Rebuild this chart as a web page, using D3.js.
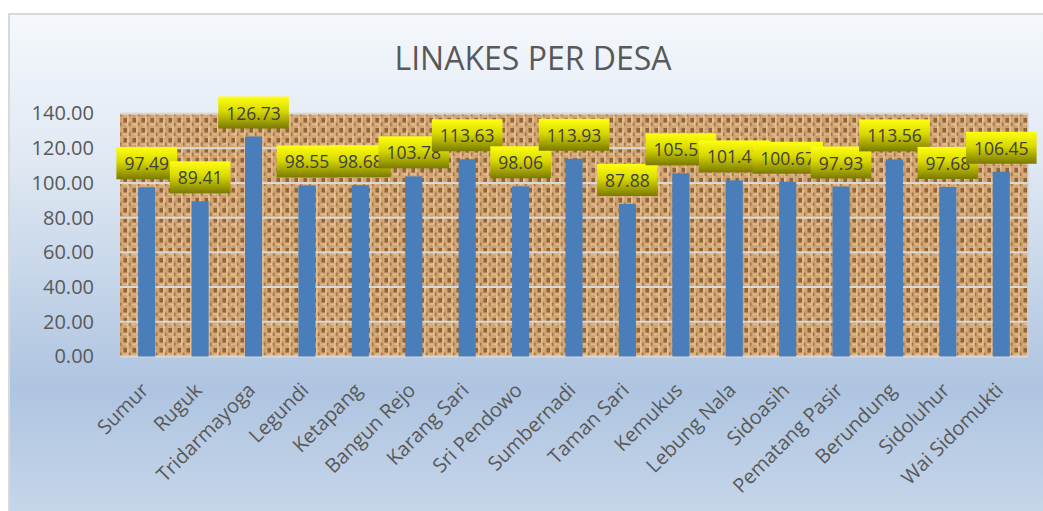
<!DOCTYPE html>
<html>
<head>
<meta charset="utf-8">
<script src="https://cdn.jsdelivr.net/npm/d3@7"></script>
<style>
  html, body { margin: 0; padding: 0; background: #ffffff; }
  svg { display: block; font-family: "Open Sans", "DejaVu Sans", sans-serif; }
</style>
</head>
<body>
<svg id="chart" width="1043" height="511"></svg>
<script>
var desa = ["Sumur", "Ruguk", "Tridarmayoga", "Legundi", "Ketapang", "Bangun Rejo",
    "Karang Sari", "Sri Pendowo", "Sumbernadi", "Taman Sari", "Kemukus", "Lebung Nala",
    "Sidoasih", "Pematang Pasir", "Berundung", "Sidoluhur", "Wai Sidomukti"];
var linakes = [97.49, 89.41, 126.73, 98.55, 98.68, 103.78, 113.63, 98.06, 113.93,
    87.88, 105.55, 101.47, 100.67, 97.93, 113.56, 97.68, 106.45];
var yTicks = [0, 20, 40, 60, 80, 100, 120, 140];
var judul = "LINAKES PER DESA";

var svg = d3.select("#chart");
var W = 1043, H = 511;
var margin = { left: 120, right: 15, top: 113.5, bottom: 154.5 };
var plotW = W - margin.left - margin.right;
var plotH = H - margin.top - margin.bottom;

var defs = svg.append("defs");

// chart background gradient
var bg = defs.append("linearGradient").attr("id", "bg-grad")
    .attr("x1", 0).attr("y1", 0).attr("x2", 0).attr("y2", 1);
bg.append("stop").attr("offset", "0%").attr("stop-color", "#f5f8fc");
bg.append("stop").attr("offset", "30%").attr("stop-color", "#dfe8f3");
bg.append("stop").attr("offset", "75%").attr("stop-color", "#aec4e0");
bg.append("stop").attr("offset", "100%").attr("stop-color", "#c6d6ea");

// yellow label gradient
var lg = defs.append("linearGradient").attr("id", "label-grad")
    .attr("x1", 0).attr("y1", 0).attr("x2", 0).attr("y2", 1);
lg.append("stop").attr("offset", "0%").attr("stop-color", "#ffff10");
lg.append("stop").attr("offset", "45%").attr("stop-color", "#d9d900");
lg.append("stop").attr("offset", "100%").attr("stop-color", "#7a7a00");

// burlap texture
var pat = defs.append("pattern").attr("id", "burlap")
    .attr("patternUnits", "userSpaceOnUse")
    .attr("x", margin.left).attr("y", margin.top)
    .attr("width", 9).attr("height", 10);
pat.append("rect").attr("width", 9).attr("height", 10).attr("fill", "#d6a977");
pat.append("rect").attr("x", 0.5).attr("y", 1).attr("width", 3.5).attr("height", 4.5)
    .attr("fill", "#7e4f26").attr("opacity", 0.8);
pat.append("rect").attr("x", 5).attr("y", 5.5).attr("width", 2.5).attr("height", 3.5)
    .attr("fill", "#8d5d30").attr("opacity", 0.65);
pat.append("rect").attr("x", 4.2).attr("y", 0).attr("width", 1.6).attr("height", 10)
    .attr("fill", "#f0cfa2").attr("opacity", 0.8);
pat.append("rect").attr("x", 0).attr("y", 6.5).attr("width", 4.5).attr("height", 1.6)
    .attr("fill", "#ebc595").attr("opacity", 0.8);

var noise = defs.append("filter").attr("id", "noise")
    .attr("x", 0).attr("y", 0).attr("width", "100%").attr("height", "100%");
noise.append("feTurbulence").attr("type", "fractalNoise")
    .attr("baseFrequency", "0.3 0.22").attr("numOctaves", 2).attr("seed", 4);
noise.append("feColorMatrix").attr("type", "matrix")
    .attr("values", "0 0 0 0 0.35  0 0 0 0 0.2  0 0 0 0 0.08  0 0 0 -1.4 0.9");
noise.append("feComposite").attr("in2", "SourceGraphic").attr("operator", "in");

// chart area
svg.append("rect")
    .attr("x", 9).attr("y", 14).attr("width", W - 8).attr("height", H - 12)
    .attr("fill", "url(#bg-grad)")
    .attr("stroke", "#d9d9d9").attr("stroke-width", 2);

svg.append("text")
    .attr("x", 533).attr("y", 70)
    .attr("text-anchor", "middle")
    .attr("font-size", 32)
    .attr("fill", "#595959")
    .text(judul);

var x = d3.scaleBand().domain(desa).range([0, plotW]).paddingInner(0.68).paddingOuter(0.34);
var y = d3.scaleLinear().domain([0, 140]).range([plotH, 0]);

var g = svg.append("g").attr("transform", "translate(" + margin.left + "," + margin.top + ")");

g.append("rect").attr("width", plotW).attr("height", plotH).attr("fill", "url(#burlap)");
g.append("rect").attr("width", plotW).attr("height", plotH).attr("fill", "#000")
    .attr("filter", "url(#noise)").attr("opacity", 0.5);

// gridlines
g.selectAll(".grid").data(yTicks).enter().append("line")
    .attr("class", "grid")
    .attr("x1", 0).attr("x2", plotW)
    .attr("y1", function (d) { return y(d); })
    .attr("y2", function (d) { return y(d); })
    .attr("stroke", "#d9d9d9").attr("stroke-width", 2);
g.append("line").attr("x1", plotW).attr("x2", plotW).attr("y1", 0).attr("y2", plotH)
    .attr("stroke", "#d0d0d0").attr("stroke-width", 1);

// y axis
var yAxis = d3.axisLeft(y).tickValues(yTicks).tickSize(0).tickPadding(26)
    .tickFormat(d3.format(".2f"));
var ya = g.append("g").call(yAxis);
ya.select(".domain").remove();
ya.selectAll("text").attr("font-size", 20).attr("fill", "#595959")
    .attr("font-family", "'Open Sans', sans-serif");

// bars
g.selectAll(".bar").data(linakes).enter().append("rect")
    .attr("class", "bar")
    .attr("x", function (d, i) { return x(desa[i]); })
    .attr("width", x.bandwidth())
    .attr("y", function (d) { return y(d); })
    .attr("height", function (d) { return plotH - y(d); })
    .attr("fill", "#4a7ebb");

// x axis labels
var xAxis = d3.axisBottom(x).tickSize(0).tickPadding(0);
var xa = g.append("g").attr("transform", "translate(0," + plotH + ")").call(xAxis);
xa.select(".domain").remove();
xa.selectAll("text")
    .attr("font-size", 20).attr("fill", "#595959")
    .attr("font-family", "'Open Sans', sans-serif")
    .attr("text-anchor", "end")
    .attr("dy", "0.35em")
    .attr("transform", "translate(-2,30) rotate(-45)");

// data labels
var labels = g.selectAll(".lbl").data(linakes).enter().append("g")
    .attr("class", "lbl")
    .attr("transform", function (d, i) {
        return "translate(" + (x(desa[i]) + x.bandwidth() / 2) + "," + (y(d) - 8) + ")";
    });
labels.each(function (d) {
    var sel = d3.select(this);
    var box = sel.append("rect").attr("fill", "url(#label-grad)");
    var t = sel.append("text")
        .attr("text-anchor", "middle")
        .attr("y", -9)
        .attr("font-size", 17.5)
        .attr("fill", "#404040")
        .text(d3.format(".2f")(d));
    var w = t.node().getComputedTextLength() + 16;
    box.attr("x", -w / 2).attr("y", -32).attr("width", w).attr("height", 32);
});
</script>
</body>
</html>
